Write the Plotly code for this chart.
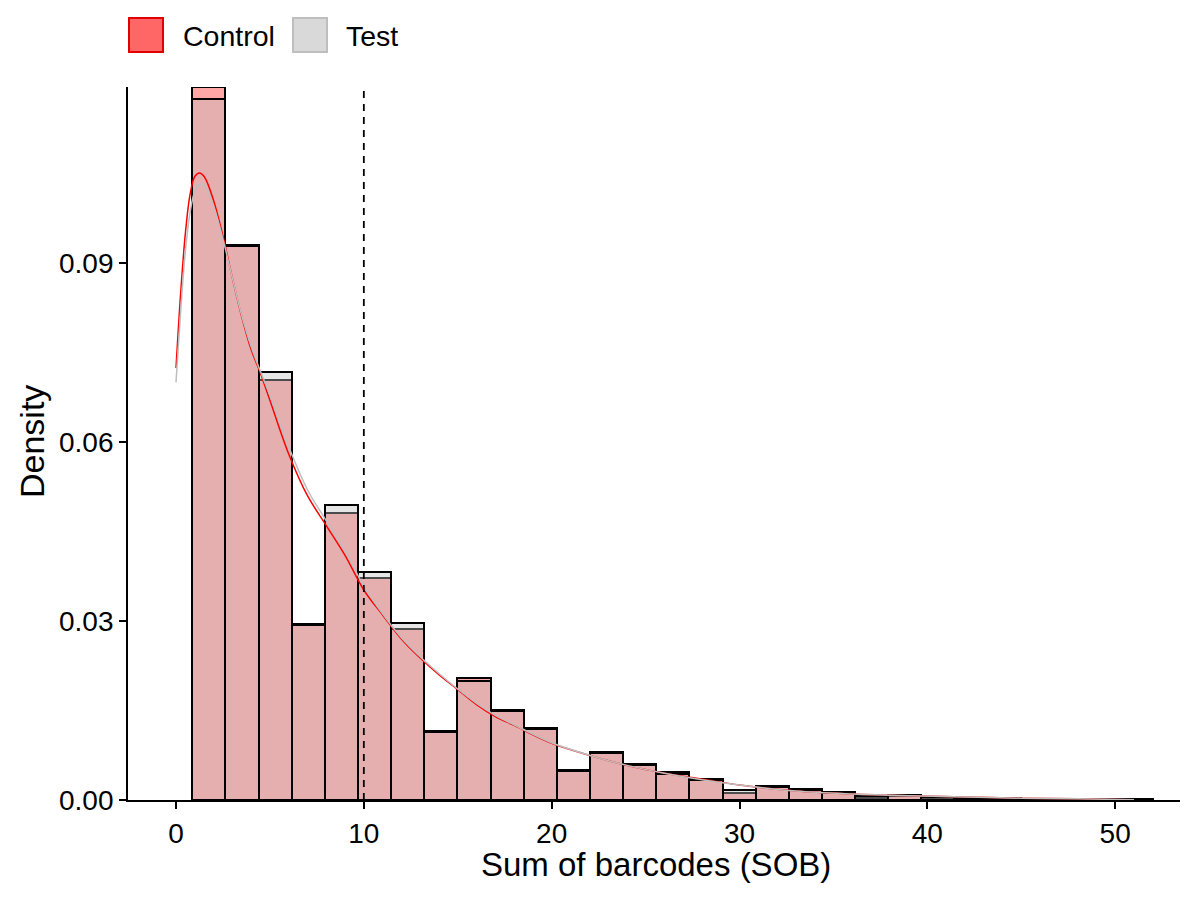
import plotly.graph_objects as go

# ---------------- data ----------------
bin_start = 0.87
bin_width = 1.764
control_density = [0.1195, 0.0930, 0.0704, 0.0295, 0.0481, 0.0372, 0.0287, 0.0116,
                   0.0205, 0.0151, 0.0120, 0.0050, 0.0080, 0.0061, 0.0047, 0.0035,
                   0.0012, 0.0024, 0.0018, 0.0014, 0.0004, 0.0007, 0.0004, 0.0003,
                   0.0002, 0.0002, 0.0001, 0.0001, 0.0000]
test_density = [0.1175, 0.0928, 0.0717, 0.0293, 0.0494, 0.0382, 0.0297, 0.0114,
                0.0199, 0.0150, 0.0119, 0.0049, 0.0079, 0.0059, 0.0044, 0.0034,
                0.0017, 0.0022, 0.0016, 0.0012, 0.0007, 0.0009, 0.0005, 0.0004,
                0.0003, 0.0002, 0.0002, 0.0001, 0.0001]

kde_x = [0, 0.25, 0.5, 0.75, 1.0, 1.25, 1.5, 2.0, 2.5, 3.0, 3.5, 4.0, 4.5, 5, 6, 7, 8,
         9, 10, 11, 12, 13, 14, 15, 16, 17, 18, 20, 22, 24, 26, 28, 30, 33, 36, 39,
         42, 45, 48, 51]
kde_control = [0.0724, 0.085, 0.095, 0.1015, 0.1045, 0.1051, 0.1045, 0.1005, 0.0945,
               0.0875, 0.0810, 0.0755, 0.0715, 0.0670, 0.0580, 0.0510, 0.0460, 0.0410,
               0.0352, 0.0310, 0.0270, 0.0238, 0.0210, 0.0185, 0.0160, 0.0140, 0.0125,
               0.0095, 0.0075, 0.0058, 0.0045, 0.0035, 0.0025, 0.0015, 0.0010, 0.0007,
               0.0005, 0.0003, 0.0002, 0.00005]
kde_test = [0.0700, 0.082, 0.092, 0.0985, 0.1020, 0.1032, 0.1030, 0.0995, 0.0940,
            0.0875, 0.0812, 0.0760, 0.0718, 0.0678, 0.0592, 0.0520, 0.0468, 0.0418,
            0.0358, 0.0312, 0.0272, 0.0240, 0.0212, 0.0186, 0.0162, 0.0142, 0.0126,
            0.0096, 0.0075, 0.0058, 0.0045, 0.0034, 0.0025, 0.0015, 0.0010, 0.0007,
            0.0005, 0.0003, 0.0002, 0.00005]

threshold = 10
x_ticks = [0, 10, 20, 30, 40, 50]
y_ticks = [0.00, 0.03, 0.06, 0.09]
group_names = ["Control", "Test"]

# ---------------- figure ----------------
centers = [bin_start + bin_width * (i + 0.5) for i in range(len(control_density))]

W, H = 1200, 900
ML, MR, MT, MB = 128, 20, 87, 100
PW, PH = W - ML - MR, H - MT - MB


def px_x(p):
    return (p - ML) / PW


def px_y(p):
    return (H - MB - p) / PH


FONT = "Liberation Sans, Arial, Helvetica, sans-serif"
TICK_SIZE = 28

fig = go.Figure()
fig.add_trace(go.Bar(x=centers, y=control_density, width=bin_width,
                     marker=dict(color="rgba(255,0,0,0.35)",
                                 line=dict(color="black", width=2)),
                     name=group_names[0], showlegend=False))
fig.add_trace(go.Bar(x=centers, y=test_density, width=bin_width,
                     marker=dict(color="rgba(190,190,190,0.4)",
                                 line=dict(color="black", width=2)),
                     name=group_names[1], showlegend=False))
fig.add_trace(go.Scatter(x=kde_x, y=kde_control, mode="lines", line_shape="spline",
                         line=dict(color="#FF0000", width=1.5), showlegend=False))
fig.add_trace(go.Scatter(x=kde_x, y=kde_test, mode="lines", line_shape="spline",
                         line=dict(color="#BEBEBE", width=1.5), showlegend=False))

fig.add_shape(type="line", x0=threshold, x1=threshold, xref="x", yref="paper",
              y0=0, y1=1, line=dict(color="black", width=1.8, dash="7px,6px"))

# legend (drawn manually to mimic ggplot keys)
legend_items = [(group_names[0], "#FF6666", "#E00000", 128, 181),
                (group_names[1], "#D9D9D9", "#BEBEBE", 292, 344)]
for name, fill, border, kx, tx in legend_items:
    fig.add_shape(type="rect", xref="paper", yref="paper",
                  x0=px_x(kx + 1), x1=px_x(kx + 35), y0=px_y(52), y1=px_y(18),
                  fillcolor=fill, line=dict(color=border, width=2))
    fig.add_annotation(text=name, xref="paper", yref="paper", x=px_x(tx), y=px_y(36),
                       xanchor="left", yanchor="middle", showarrow=False,
                       font=dict(family=FONT, size=28.5, color="black"))

fig.add_annotation(text="Sum of barcodes (SOB)", xref="paper", yref="paper",
                   x=px_x(656), y=px_y(864), xanchor="center", yanchor="middle",
                   showarrow=False, font=dict(family=FONT, size=33, color="black"))
fig.add_annotation(text="Density", xref="paper", yref="paper", textangle=-90,
                   x=px_x(32), y=px_y(442), xanchor="center", yanchor="middle",
                   showarrow=False, font=dict(family=FONT, size=34, color="black"))

fig.update_layout(
    width=W, height=H, barmode="overlay", bargap=0,
    margin=dict(l=ML, r=MR, t=MT, b=MB, autoexpand=False),
    plot_bgcolor="white", paper_bgcolor="white",
    font=dict(family=FONT, color="black"),
)
fig.update_xaxes(range=[-2.555, 53.45], tickvals=x_ticks, showgrid=False,
                 zeroline=False, showline=True, linecolor="black", linewidth=1.8,
                 ticks="outside", ticklen=7, tickwidth=1.8, tickcolor="black",
                 tickfont=dict(family=FONT, size=TICK_SIZE, color="black"))
fig.update_yaxes(range=[0, 0.1195], tickvals=y_ticks, tickformat=".2f",
                 showgrid=False, zeroline=False, showline=True, linecolor="black",
                 linewidth=1.8, ticks="outside", ticklen=7, tickwidth=1.8,
                 tickcolor="black", tickfont=dict(family=FONT, size=TICK_SIZE, color="black"))

fig.write_html("out.html")
